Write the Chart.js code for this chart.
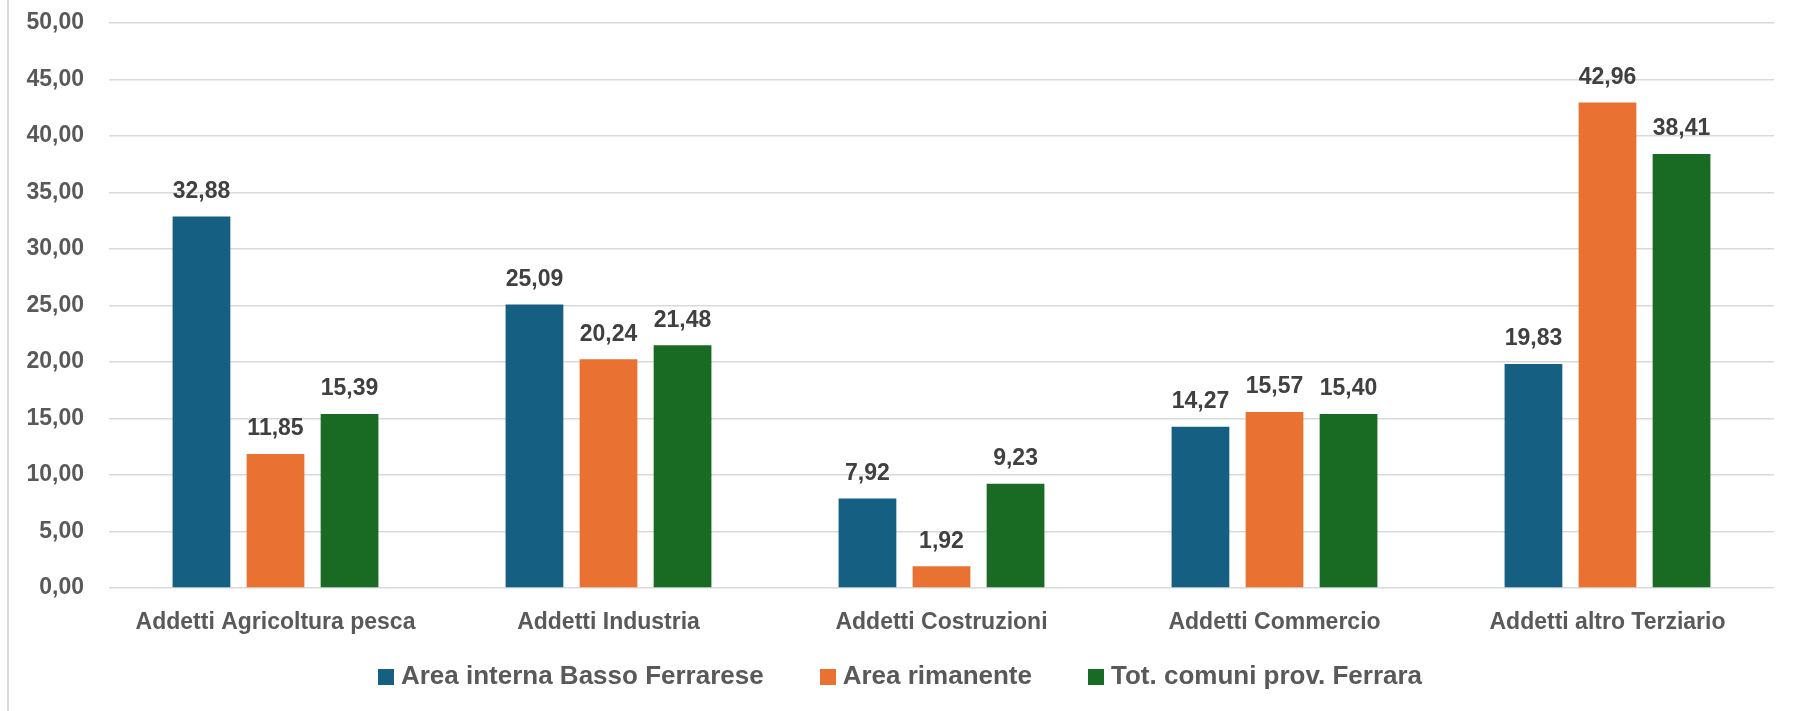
<!DOCTYPE html>
<html>
<head>
<meta charset="utf-8">
<script src="https://cdn.jsdelivr.net/npm/chart.js@4/dist/chart.umd.min.js"></script>
<style>
    body { margin: 0; background: #fff; }
    #wrap { position: relative; width: 1800px; height: 711px; }
    #leftLine { position: absolute; left: 7px; top: 0; width: 2px; height: 711px; background: #d9d9d9; }
    #legend {
        position: absolute; left: 0; top: 660px; width: 1800px; height: 30px;
        display: flex; justify-content: center; align-items: center; gap: 56px;
        font-family: "Liberation Sans", Arial, sans-serif; font-weight: bold; font-size: 26px; color: #595959;
    }
    #legend span.box { display: inline-block; width: 16px; height: 16px; margin-right: 7px; vertical-align: -1px; }
</style>
</head>
<body>
<div id="wrap">
    <canvas id="myChart" width="1800" height="711"></canvas>
    <div id="leftLine"></div>
    <div id="legend"></div>
</div>
<script>
// Dati
var categories = ['Addetti Agricoltura pesca', 'Addetti Industria', 'Addetti Costruzioni', 'Addetti Commercio', 'Addetti altro Terziario'];
var seriesNames = ['Area interna Basso Ferrarese', 'Area rimanente', 'Tot. comuni prov. Ferrara'];
var areaInterna = [32.88, 25.09, 7.92, 14.27, 19.83];
var areaRimanente = [11.85, 20.24, 1.92, 15.57, 42.96];
var totComuni = [15.39, 21.48, 9.23, 15.40, 38.41];
var colors = ['#156082', '#E97132', '#196B24'];

function formatIt(v) {
    return v.toFixed(2).replace('.', ',');
}

// Etichette sopra le barre
var valueLabels = {
    id: 'valueLabels',
    afterDatasetsDraw: function (chart) {
        var ctx = chart.ctx;
        ctx.save();
        ctx.font = 'bold 23px "Liberation Sans", Arial, sans-serif';
        ctx.fillStyle = '#404040';
        ctx.textAlign = 'center';
        ctx.textBaseline = 'middle';
        chart.data.datasets.forEach(function (ds, i) {
            chart.getDatasetMeta(i).data.forEach(function (bar, j) {
                ctx.fillText(formatIt(ds.data[j]), bar.x, bar.y - 25);
            });
        });
        ctx.restore();
    }
};

var ctx = document.getElementById('myChart').getContext('2d');

var chart = new Chart(ctx, {
    type: 'bar',
    data: {
        labels: categories,
        datasets: [{
            label: seriesNames[0],
            backgroundColor: colors[0],
            data: areaInterna,
        },
        {
            label: seriesNames[1],
            backgroundColor: colors[1],
            data: areaRimanente,
        },
        {
            label: seriesNames[2],
            backgroundColor: colors[2],
            data: totComuni,
        }]
    },
    options: {
        responsive: false,
        animation: false,
        layout: { padding: { top: 23, left: 0, right: 26, bottom: 63 } },
        datasets: { bar: { categoryPercentage: 0.667, barPercentage: 0.78 } },
        plugins: {
            legend: { display: false },
            tooltip: { enabled: false }
        },
        scales: {
            x: {
                grid: { display: false, drawTicks: false },
                border: { display: false },
                ticks: {
                    padding: 21,
                    color: '#595959',
                    font: { family: '"Liberation Sans", Arial, sans-serif', size: 23, weight: 'bold' }
                },
                afterFit: function (scale) { scale.height = 60; }
            },
            y: {
                min: 0,
                max: 50,
                ticks: {
                    stepSize: 5,
                    padding: 25,
                    color: '#595959',
                    font: { family: '"Liberation Sans", Arial, sans-serif', size: 23, weight: 'bold' },
                    callback: function (v) { return formatIt(v); }
                },
                grid: { color: '#d9d9d9', lineWidth: 1.5, drawTicks: false },
                border: { display: false },
                afterFit: function (scale) {
                    scale.width = 109;
                    scale.paddingTop = 0;
                    scale.paddingBottom = 0;
                }
            }
        }
    },
    plugins: [valueLabels]
});

// Legenda HTML
var legend = document.getElementById('legend');
seriesNames.forEach(function (name, i) {
    var item = document.createElement('div');
    var box = document.createElement('span');
    box.className = 'box';
    box.style.background = colors[i];
    item.appendChild(box);
    item.appendChild(document.createTextNode(name));
    legend.appendChild(item);
});
</script>
</body>
</html>
